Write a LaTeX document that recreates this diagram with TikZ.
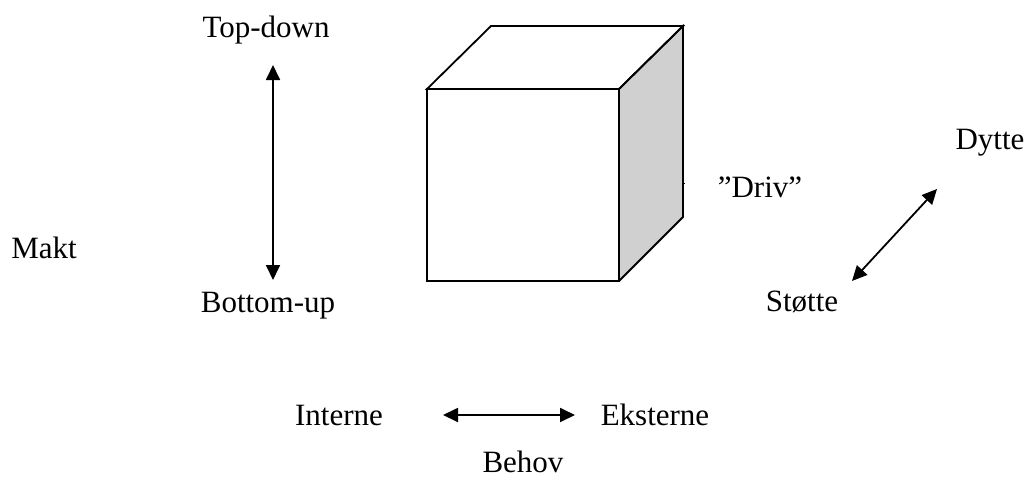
\documentclass[tikz,border=0pt]{standalone}
\usepackage{fontspec}
\setmainfont{Liberation Serif}
\usetikzlibrary{arrows.meta}
\begin{document}
\begin{tikzpicture}[x=1pt,y=-1pt,
  lbl/.style={inner sep=0pt,anchor=base,font=\fontsize{31}{37}\selectfont},
  edge/.style={line width=1.8pt,line join=miter},
  dbl/.style={line width=1.8pt,{Triangle[length=15pt,width=14pt]}-{Triangle[length=15pt,width=14pt]}}]
\useasboundingbox (0,0) rectangle (1027,479);
% cube
\coordinate (fa) at (427,89);
\coordinate (fb) at (619,89);
\coordinate (fc) at (619,281);
\coordinate (fd) at (427,281);
\coordinate (ba) at (491,26);
\coordinate (bb) at (683,26);
\coordinate (bc) at (683,217);
\fill[gray!37] (fb) -- (bb) -- (bc) -- (fc) -- cycle;
\draw[edge,fill=white] (fa) -- (ba) -- (bb) -- (fb) -- cycle;
\draw[edge] (fa) rectangle (fc);
\draw[edge] (fb) -- (bb) -- (bc) -- (fc);
\coordinate (tk) at (683,183);
\draw[line width=1pt] (tk) -- ++(2,0);
% labels
\node[lbl] (top) at (266,37) {Top-down};
\node[lbl] (bot) at (268,312) {Bottom-up};
\node[lbl] (makt) at (44,258) {Makt};
\node[lbl] (dytte) at (990,149) {Dytte};
\node[lbl] (driv) at (760,197) {”Driv”};
\node[lbl] (stotte) at (802,311) {Støtte};
\node[lbl] (int) at (339,425) {Interne};
\node[lbl] (eks) at (655,425) {Eksterne};
\node[lbl] (behov) at (523,472) {Behov};
% arrows
\coordinate (v1) at (273,65);
\coordinate (v2) at (273,280);
\coordinate (d1) at (937,189);
\coordinate (d2) at (852,281);
\coordinate (h1) at (443,415);
\coordinate (h2) at (575,415);
\draw[dbl] (v1) -- (v2);
\draw[dbl] (d2) -- (d1);
\draw[dbl] (h1) -- (h2);
\end{tikzpicture}
\end{document}
